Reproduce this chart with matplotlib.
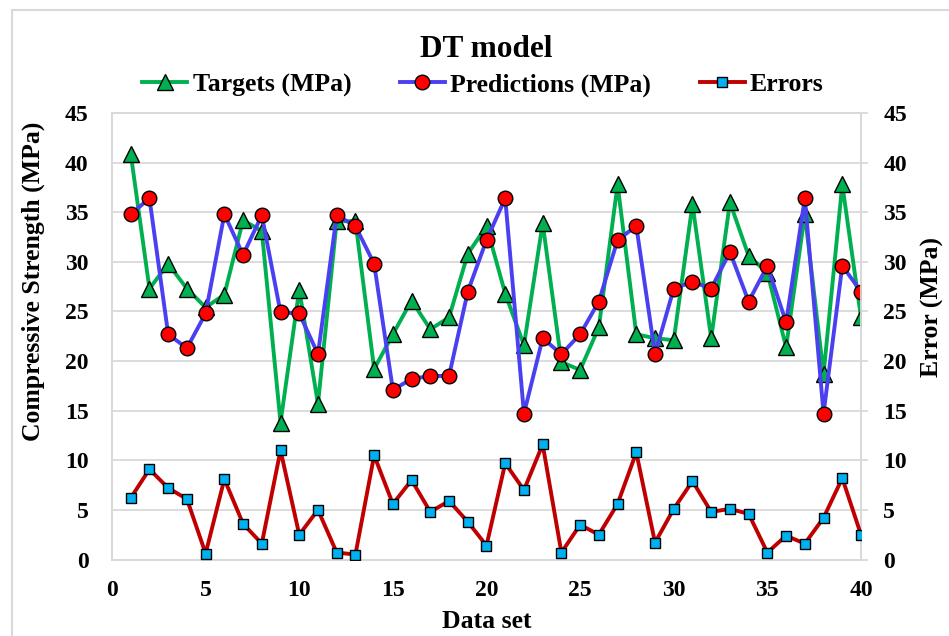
import numpy as np
from matplotlib import pyplot as plt
from matplotlib.patches import Rectangle

# Measured vs predicted compressive strength, DT model
data_set = np.arange(1, 41)

targets = [40.9, 27.3, 29.8, 27.3, 25.4, 26.7, 34.2, 33.1, 13.8, 27.2,
           15.7, 34.1, 34.1, 19.2, 22.7, 26.1, 23.2, 24.4, 30.8, 33.6,
           26.8, 21.6, 33.9, 19.9, 19.1, 23.4, 37.8, 22.7, 22.3, 22.1,
           35.8, 22.3, 36.0, 30.6, 28.9, 21.4, 34.8, 18.7, 37.8, 24.4]

predictions = [34.8, 36.4, 22.7, 21.3, 24.8, 34.8, 30.7, 34.7, 24.9, 24.8,
               20.7, 34.7, 33.6, 29.8, 17.1, 18.2, 18.5, 18.5, 27.0, 32.2,
               36.4, 14.7, 22.3, 20.7, 22.7, 26.0, 32.2, 33.6, 20.7, 27.3,
               28.0, 27.3, 31.0, 26.0, 29.6, 23.9, 36.4, 14.7, 29.6, 27.0]

errors = [6.2, 9.1, 7.2, 6.1, 0.6, 8.1, 3.6, 1.6, 11.0, 2.5,
          5.0, 0.7, 0.5, 10.5, 5.6, 8.0, 4.8, 5.9, 3.8, 1.4,
          9.7, 7.0, 11.6, 0.7, 3.5, 2.5, 5.6, 10.8, 1.7, 5.1,
          7.9, 4.8, 5.1, 4.6, 0.7, 2.4, 1.6, 4.2, 8.2, 2.5]

y_ticks = [0, 5, 10, 15, 20, 25, 30, 35, 40, 45]
x_ticks = [0, 5, 10, 15, 20, 25, 30, 35, 40]

plt.rcParams['font.family'] = 'Liberation Serif'
plt.rcParams['font.weight'] = 'bold'

grid_col = '#d9d9d9'

fig = plt.figure(figsize=(9.49, 6.36), dpi=100)
ax = fig.add_axes([112/949, 1 - 559.5/636, 749/949, 446.5/636])

# chart area frame
fig.patches.append(Rectangle((12/949, -0.1), 1.2, 1.1 - 10/636, transform=fig.transFigure,
                             fill=False, edgecolor=grid_col, lw=1.5))

l1, = ax.plot(data_set, targets, color='#00b050', lw=2.8, marker='^', ms=11,
              mfc='#00b050', mec='black', mew=1.0, label='Targets (MPa)', zorder=3)
l2, = ax.plot(data_set, predictions, color='#4b3ff2', lw=2.8, marker='o', ms=10.5,
              mfc='#ff0000', mec='black', mew=1.0, label='Predictions (MPa)', zorder=4)

ax.set_xlim(0, 40)
ax.set_ylim(0, 45)
ax.set_xticks(x_ticks)
ax.set_yticks(y_ticks)
ax.grid(axis='y', color=grid_col, lw=1.3)
ax.set_axisbelow(True)
for s in ax.spines.values():
    s.set_color(grid_col)
    s.set_linewidth(1.3)
ax.tick_params(axis='y', length=0, pad=17, labelsize=17)
ax.tick_params(axis='x', length=0, pad=15, labelsize=17)

ax.set_ylabel('Compressive Strength (MPa)', fontsize=18.5, fontweight='bold')
ax.yaxis.set_label_coords(-0.089, 0.624)
ax.set_xlabel('Data set', fontsize=18.5, fontweight='bold')
ax.xaxis.set_label_coords(0.5, -0.113)

ax2 = ax.twinx()
l3, = ax2.plot(data_set, errors, color='#c00000', lw=2.8, marker='s', ms=7.5,
               mfc='#00b0f0', mec='black', mew=1.0, label='Errors', zorder=5)
ax2.set_ylim(0, 45)
ax2.set_yticks(y_ticks)
for s in ax2.spines.values():
    s.set_color(grid_col)
    s.set_linewidth(1.3)
ax2.tick_params(axis='y', direction='out', length=5, width=1.3, color=grid_col,
                pad=11, labelsize=17)
ax2.set_ylabel('Error (MPa)', fontsize=18.5, fontweight='bold', rotation=90)
ax2.yaxis.set_label_coords(1.08, 0.566)

ax.set_title('DT model', fontsize=22.5, fontweight='bold', pad=40)

fig.legend(handles=[l1, l2, l3], loc='center', bbox_to_anchor=(483/949, 1 - 85/636),
           ncol=3, frameon=False, fontsize=18.5, handlelength=1.75,
           handletextpad=0.2, columnspacing=1.9, borderpad=0)

plt.savefig('out.png', dpi=100)
